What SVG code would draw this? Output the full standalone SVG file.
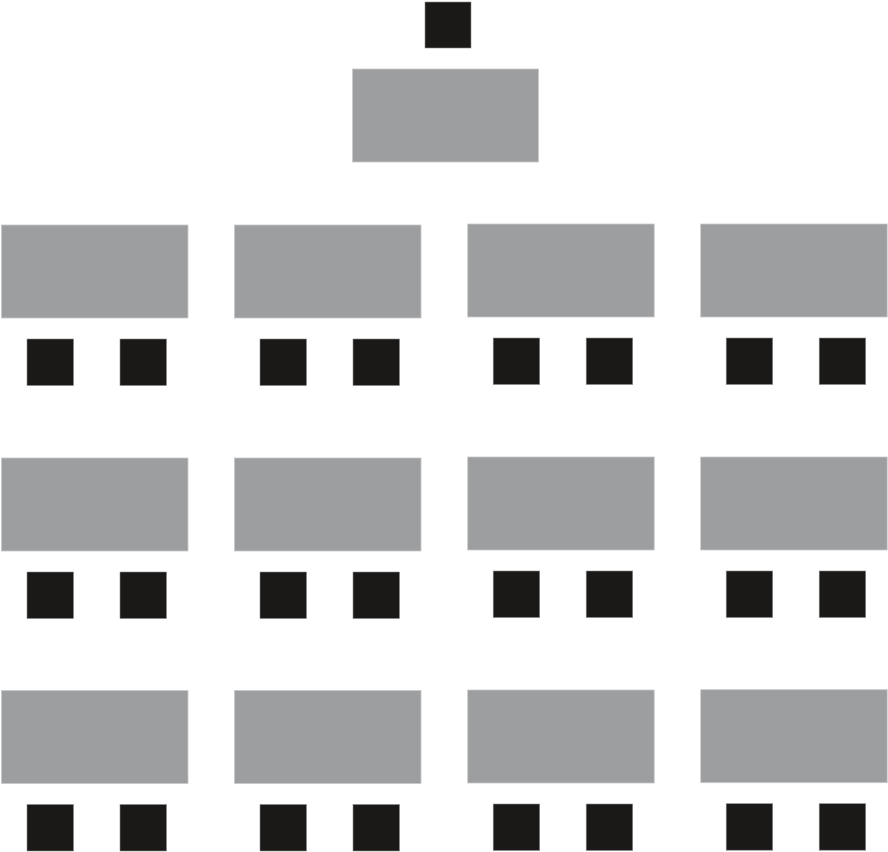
<svg xmlns="http://www.w3.org/2000/svg" width="888" height="852" viewBox="0 0 888 852">
<style>
.desk{fill:#9d9ea0;stroke:#c8c9ca;stroke-width:0.8}
.chair{fill:#1a1917;stroke:#8a8a8a;stroke-width:0.6}
</style>
<defs>
<g id="set">
<rect class="desk" x="0" y="0" width="186.5" height="93"/>
<rect class="chair" x="25.5" y="114" width="46.5" height="46.5"/>
<rect class="chair" x="118.5" y="114" width="46.5" height="46.5"/>
</g>
</defs>
<rect width="888" height="852" fill="#ffffff"/>
<g id="teacher">
<rect class="chair" x="425" y="2" width="46" height="46"/>
<rect class="desk" x="352.5" y="69" width="186" height="93"/>
</g>
<g id="row1">
<use href="#set" x="1.5" y="225"/>
<use href="#set" x="234.5" y="225"/>
<use href="#set" x="467.7" y="224"/>
<use href="#set" x="700.7" y="224"/>
</g>
<g id="row2">
<use href="#set" x="1.5" y="458"/>
<use href="#set" x="234.5" y="458"/>
<use href="#set" x="467.7" y="457"/>
<use href="#set" x="700.7" y="457"/>
</g>
<g id="row3">
<use href="#set" x="1.5" y="690.5"/>
<use href="#set" x="234.5" y="690.5"/>
<use href="#set" x="467.7" y="690"/>
<use href="#set" x="700.7" y="689.7"/>
</g>
<g id="connectors"></g>
</svg>
